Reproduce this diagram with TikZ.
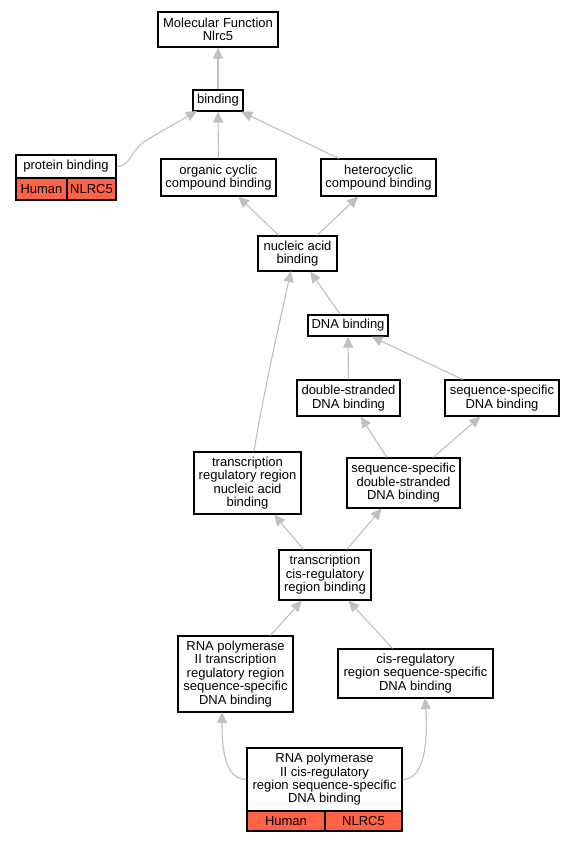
\documentclass[tikz,border=0pt]{standalone}
\usepackage{fontspec}
\setmainfont{Liberation Sans}
\usetikzlibrary{arrows.meta}
\definecolor{edgegray}{RGB}{192,192,192}
\definecolor{tomatocell}{RGB}{255,99,71}
\tikzset{
  box/.style={draw=black, line width=1.2pt, fill=white, align=center, inner sep=0pt,
    font=\fontsize{13}{13.4}\selectfont},
  cell/.style={draw=black, line width=1.2pt, fill=tomatocell, inner sep=0pt,
    font=\fontsize{13}{13.4}\selectfont},
  edge/.style={draw=edgegray, line width=1.1pt, -{Triangle[length=11pt,width=10pt]}},
}
\begin{document}
\begin{tikzpicture}[x=1pt,y=-1pt]
\useasboundingbox[fill=white] (0,0) rectangle (576,843);

\node[box, minimum width=120, minimum height=35] (mf) at (218,29.5) {Molecular Function\\Nlrc5};
\node[box, minimum width=50, minimum height=21] (bind) at (218,100.5) {binding};
\node[box, minimum width=100, minimum height=23] (pb) at (66,166.5) {protein binding};
\node[cell, minimum width=51, minimum height=22] (pbh) at (41.5,189) {Human};
\node[cell, minimum width=49, minimum height=22] (pbn) at (91.5,189) {NLRC5};
\node[box, minimum width=115, minimum height=37] (occb) at (218.5,177.5) {organic cyclic\\compound binding};
\node[box, minimum width=115, minimum height=37] (hcb) at (378.5,177.5) {heterocyclic\\compound binding};
\node[box, minimum width=79, minimum height=35] (nab) at (297.5,253.5) {nucleic acid\\binding};
\node[box, minimum width=80, minimum height=21] (dnab) at (348,325.5) {DNA binding};
\node[box, minimum width=103, minimum height=36] (dsdb) at (348.5,398) {double-stranded\\DNA binding};
\node[box, minimum width=114, minimum height=36] (ssdb) at (502,398) {sequence-specific\\DNA binding};
\node[box, minimum width=107, minimum height=62] (trr) at (247.5,483) {transcription\\regulatory region\\nucleic acid\\binding};
\node[box, minimum width=113, minimum height=50] (ssds) at (403.5,483) {sequence-specific\\double-stranded\\DNA binding};
\node[box, minimum width=92, minimum height=50] (tcr) at (325,575) {transcription\\cis-regulatory\\region binding};
\node[box, minimum width=115, minimum height=76] (rp2t) at (235.5,674) {RNA polymerase\\II transcription\\regulatory region\\sequence-specific\\DNA binding};
\node[box, minimum width=155, minimum height=49] (crs) at (415.5,673.5) {cis-regulatory\\region sequence-specific\\DNA binding};
\node[box, minimum width=155, minimum height=63] (rp2c) at (324.5,779.5) {RNA polymerase\\II cis-regulatory\\region sequence-specific\\DNA binding};
\node[cell, minimum width=78, minimum height=20] (rp2ch) at (286,821) {Human};
\node[cell, minimum width=77, minimum height=20] (rp2cn) at (363.5,821) {NLRC5};

\draw[edge] (bind) -- (mf);
\draw[edge] (pb.east) .. controls (132,166.5) and (128,150) .. (150,138) -- (197,111);
\draw[edge] (occb) -- (bind);
\draw[edge] (hcb) -- (bind);
\draw[edge] (nab) -- (occb);
\draw[edge] (nab) -- (hcb);
\draw[edge] (dnab) -- (nab);
\draw[edge] ([xshift=6.5pt]trr.north) .. controls (262,400) and (280,320) .. (291,271);
\draw[edge] (dsdb) -- (dnab);
\draw[edge] (ssdb) -- (dnab);
\draw[edge] (ssds) -- (dsdb);
\draw[edge] (ssds) -- (ssdb);
\draw[edge] (tcr) -- (trr);
\draw[edge] (tcr) -- (ssds);
\draw[edge] (rp2t) -- (tcr);
\draw[edge] (crs) -- (tcr);
\draw[edge] (rp2c.west) .. controls (225,779.5) and (222,750) .. (222,712);
\draw[edge] (rp2c.east) .. controls (425,779.5) and (428,740) .. (425,698);
\end{tikzpicture}
\end{document}
